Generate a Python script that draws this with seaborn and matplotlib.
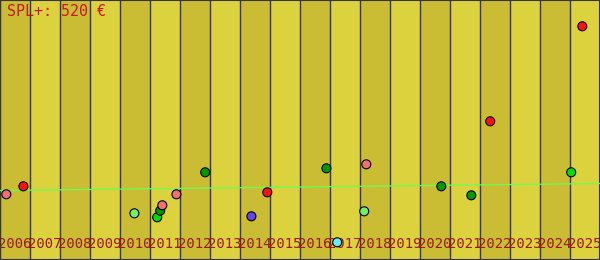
import matplotlib
matplotlib.use("Agg")
import matplotlib.pyplot as plt
import seaborn as sns
import pandas as pd

# ---- data ----
years = list(range(2006, 2026))
point_t = [2006.21, 2006.78, 2010.48, 2011.24, 2011.34, 2011.41, 2011.88, 2012.84,
           2014.38, 2014.91, 2016.88, 2018.21, 2018.14, 2017.24, 2020.71, 2021.71,
           2022.34, 2025.41, 2025.04]
point_v = [131.4, 147.4, 93.4, 85.4, 98.6, 109.4, 131.4, 175.4,
           87.4, 135.4, 183.4, 191.4, 97.4, 35.4, 147.4, 129.4,
           277.4, 467.4, 175.4]
point_kind = ["salmon", "red", "light", "bright", "dark", "salmon", "salmon", "dark",
              "violet", "red", "dark", "salmon", "light", "cyan", "dark", "dark",
              "red", "red", "bright"]
trend_t = [2006.0, 2026.0]
trend_v = [139.0, 153.0]
title = "SPL+: 520 €"

palette = {"salmon": "#f07070", "red": "#ff1010", "light": "#77ee66",
           "bright": "#00dd00", "dark": "#009a00", "violet": "#6644ee",
           "cyan": "#66eeff"}

sns.set_theme(style="white")
plt.rcParams["font.family"] = ["DejaVu Sans Mono", "DejaVu Sans"]

fig = plt.figure(figsize=(6.0, 2.6), dpi=100)
ax = fig.add_axes([0, 0, 1, 1])

band_dark = "#cabd33"
band_light = "#dcd23e"
for y in years:
    ax.axvspan(y, y + 1, color=band_dark if (y % 2 == 0) else band_light, lw=0, zorder=0)
    ax.axvline(y, color="#343445", lw=1.0, zorder=1)
    ax.text(y + 0.5, 31, str(y), ha="center", va="center", color="#a01818",
            fontsize=10, zorder=2)

tdf = pd.DataFrame({"t": trend_t, "v": trend_v})
sns.lineplot(data=tdf, x="t", y="v", color="#66ff55", lw=0.9, ax=ax, zorder=3)

df = pd.DataFrame({"t": point_t, "v": point_v, "kind": point_kind})
sns.scatterplot(data=df, x="t", y="v", hue="kind", palette=palette, s=42,
                edgecolor="black", linewidth=0.8, legend=False, ax=ax, zorder=4)

ax.text(2006.23, 498, title, ha="left", va="center", color="#c81818", fontsize=10.8, zorder=5)

ax.set_xlim(2006, 2026)
ax.set_ylim(0, 520)
ax.set_xticks([])
ax.set_yticks([])
ax.set_xlabel("")
ax.set_ylabel("")
for sp in ax.spines.values():
    sp.set_visible(True)
    sp.set_color("#343445")
    sp.set_linewidth(1.5)

fig.savefig("out.png", dpi=100)
